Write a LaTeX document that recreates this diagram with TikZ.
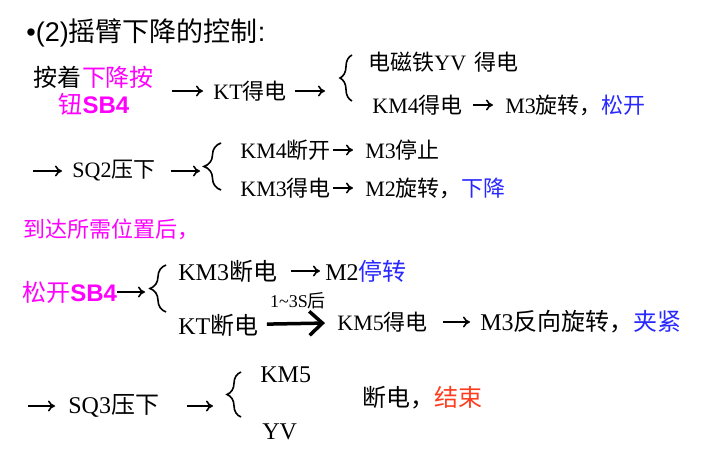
\documentclass[tikz,border=0pt]{standalone}
\usepackage{fontspec}
\setmainfont{Liberation Serif}
\newfontfamily\cjk{Noto Sans CJK SC}
\newfontfamily\hei{Liberation Sans}
\usetikzlibrary{arrows.meta, decorations.pathreplacing}
\definecolor{hlblue}{RGB}{40,40,255}
\definecolor{hlpink}{RGB}{255,0,255}
\definecolor{hlred}{RGB}{255,60,30}
\newcommand{\zh}[1]{{\cjk #1}}

\begin{document}
\begin{tikzpicture}[x=1pt, y=-1pt, thick,
    txt/.style={anchor=west, inner sep=0pt, font=\fontsize{22}{26}\selectfont},
    big/.style={anchor=west, inner sep=0pt, font=\fontsize{24}{27}\selectfont},
    arr/.style={-{To[length=7pt, width=11pt]}, line width=1.6pt},
    fat/.style={-{Straight Barb[length=13pt, width=24pt, line width=3.5pt]}, line width=3.5pt},
    brc/.style={decorate, decoration={brace, amplitude=#1pt}, line width=1.6pt}]
      \useasboundingbox (0,0) rectangle (702,450);
      \node[anchor=west, inner sep=0pt, font=\fontsize{27}{30}\selectfont\hei] (title) at (26,33) {•(2)\zh{摇臂下降的控制}:};
      % first row
      \node[big, anchor=center, align=center] (press) at (94,91) {\zh{按着}\textcolor{hlpink}{\zh{下降按}}\\\textcolor{hlpink}{\zh{钮}\hei\bfseries SB4}};
      \node[txt] (kt) at (213,91) {KT\zh{得电}};
      \coordinate (b1in) at (338,91);
      \draw[brc=12] (352,101) -- (352,55);
      \node[txt] (magnet) at (368,62) {\zh{电磁铁}YV\hspace{8pt}\zh{得电}};
      \node[txt] (km4on) at (372,105) {KM4\zh{得电}};
      \node[txt] (m3rot) at (505,105) {M3\zh{旋转，}\textcolor{hlblue}{\zh{松开}}};
      \draw[arr, shorten <=18pt, shorten >=10pt] (press) -- (kt);
      \draw[arr, shorten <=8pt, shorten >=13pt] (kt) -- (b1in);
      \draw[arr, shorten <=10pt, shorten >=12pt] (km4on) -- (m3rot);
      % second row
      \coordinate (s2) at (33,171);
      \node[txt] (sq2) at (72,171) {SQ2\zh{压下}};
      \coordinate (b2in) at (202,171);
      \draw[brc=17] (221,190) -- (221,143);
      \node[txt] (km4off) at (240,150) {KM4\zh{断开}};
      \node[txt] (m3stop) at (365,150) {M3\zh{停止}};
      \node[txt] (km3on) at (240,188) {KM3\zh{得电}};
      \node[txt] (m2rot) at (365,188) {M2\zh{旋转，}\textcolor{hlblue}{\zh{下降}}};
      \draw[arr, shorten >=10pt] (s2) -- (sq2);
      \draw[arr, shorten <=15pt, shorten >=2pt] (sq2) -- (b2in);
      \draw[arr, shorten <=2pt, shorten >=12pt] (km4off) -- (m3stop);
      \draw[arr, shorten <=2pt, shorten >=12pt] (km3on) -- (m2rot);
      \node[txt, text=hlpink] (arrive) at (23,229) {\zh{到达所需位置后，}};
      % third row
      \node[big, text=hlpink] (release) at (22,292) {\zh{松开}\hei\bfseries SB4};
      \coordinate (b3in) at (148,292);
      \draw[brc=16] (166,312) -- (166,265);
      \node[big] (km3off) at (178,271) {KM3\zh{断电}};
      \node[big] (m2stop) at (325,271) {M2\textcolor{hlblue}{\zh{停转}}};
      \node[big] (ktoff) at (178,325) {KT\zh{断电}};
      \node[txt] (km5on) at (337,322) {KM5\zh{得电}};
      \node[big] (m3rev) at (480,322) {M3\zh{反向旋转，}\textcolor{hlblue}{\zh{夹紧}}};
      \draw[arr, shorten >=3pt] (release) -- (b3in);
      \draw[arr, shorten <=14pt, shorten >=5pt] (km3off) -- (m2stop);
      \draw[fat, shorten <=8pt, shorten >=12pt] (ktoff) -- node[above=13pt, inner sep=0pt, font=\fontsize{18}{20}\selectfont] (delay) {1\textasciitilde3S\zh{后}} (km5on);
      \draw[arr, shorten <=15pt, shorten >=10pt] (km5on) -- (m3rev);
      % last row
      \coordinate (s5) at (28,406);
      \node[big] (sq3) at (68,406) {SQ3\zh{压下}};
      \coordinate (b4in) at (227,406);
      \draw[brc=14] (241,417) -- (241,372);
      \node[big] (km5) at (260,375) {KM5};
      \node[big] (yv) at (262,432) {YV};
      \node[big] (off) at (362,398) {\zh{断电，}\textcolor{hlred}{\zh{结束}}};
      \draw[arr, shorten >=13pt] (s5) -- (sq3);
      \draw[arr, shorten <=28pt, shorten >=14pt] (sq3) -- (b4in);
    \end{tikzpicture}
\end{document}
